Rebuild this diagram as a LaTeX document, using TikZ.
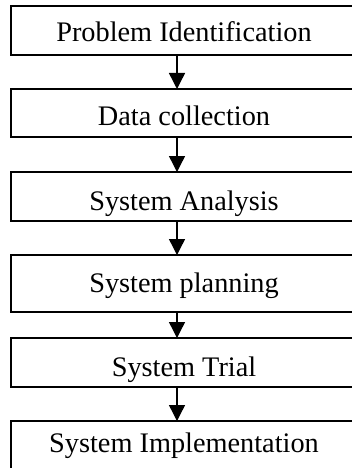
\documentclass[tikz,border=0pt]{standalone}
\usepackage{fontspec}
\setmainfont{Liberation Serif}
\usetikzlibrary{arrows.meta}
\tikzset{
  flowbox/.style={draw=black, line width=1.3pt, rectangle, inner sep=0pt, outer sep=0pt,
    minimum width=346pt, anchor=north, font=\fontsize{28.3}{30}\selectfont},
  flowarrow/.style={line width=1.4pt, -{Triangle[width=16pt,length=16pt]}}
}
\begin{document}
\begin{tikzpicture}[x=1pt,y=-1pt]
\useasboundingbox (0,0) rectangle (352,468);
\clip (0,0) rectangle (352,468);
\coordinate (ax) at (177,0);
\node[flowbox, text height=36pt, text depth=13pt] (b1) at (184,6) {Problem Identification};
\node[flowbox, text height=36pt, text depth=12pt] (b2) at (184,89) {Data collection};
\node[flowbox, text height=38pt, text depth=11pt] (b3) at (184,172) {System Analysis};
\node[flowbox, text height=37pt, text depth=20pt] (b4) at (184,255) {System planning};
\node[flowbox, text height=38pt, text depth=11pt] (b5) at (184,338) {System Trial};
\node[flowbox, text height=31pt, text depth=18pt] (b6) at (184,421) {System Implementation};
\draw[flowarrow] (b1.south -| ax) -- (b2.north -| ax);
\draw[flowarrow] (b2.south -| ax) -- (b3.north -| ax);
\draw[flowarrow] (b3.south -| ax) -- (b4.north -| ax);
\draw[flowarrow] (b4.south -| ax) -- (b5.north -| ax);
\draw[flowarrow] (b5.south -| ax) -- (b6.north -| ax);
\end{tikzpicture}
\end{document}
